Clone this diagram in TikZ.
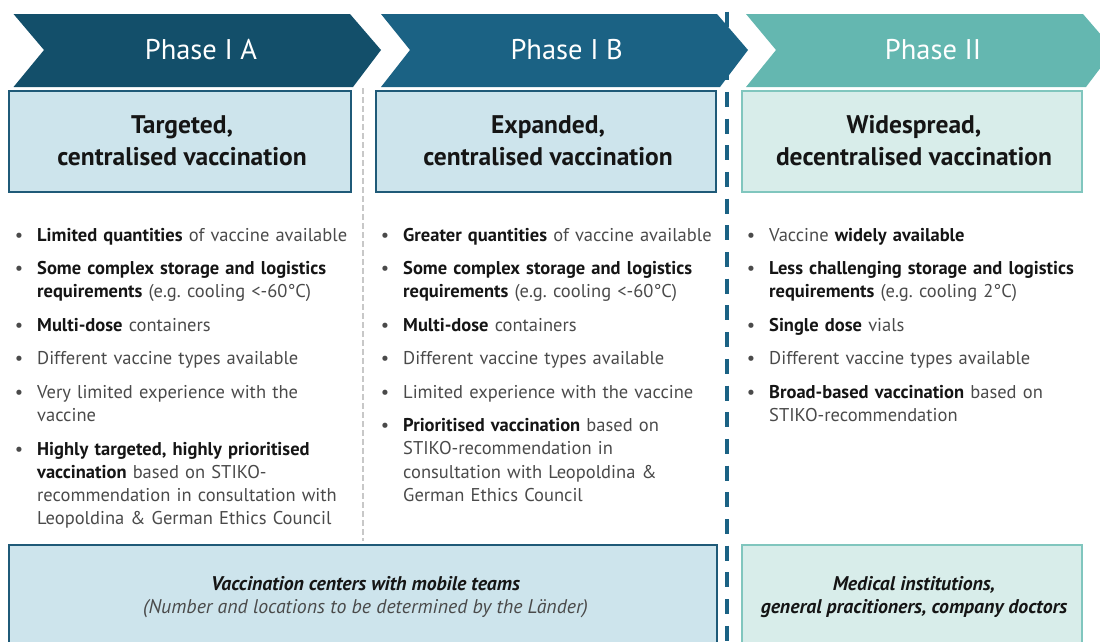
\documentclass[tikz,border=0pt]{standalone}
\usepackage{fontspec}
\setmainfont{PT Sans}
\usetikzlibrary{positioning}
\definecolor{arrA}{HTML}{134F6A}
\definecolor{arrB}{HTML}{1B6284}
\definecolor{arrC}{HTML}{64B7B0}
\definecolor{boxblue}{HTML}{CDE4EC}
\definecolor{boxblueline}{HTML}{1F5A78}
\definecolor{boxgreen}{HTML}{D8EDEA}
\definecolor{boxgreenline}{HTML}{80C6BE}
\definecolor{bodyc}{HTML}{4A4A4A}
\definecolor{boldc}{HTML}{151515}
\definecolor{graydash}{HTML}{C8C8C8}
\newcommand{\bt}[1]{\textbf{\color{boldc}#1}}
\newcommand{\bul}{\llap{\textbullet\hspace{14pt}}}
\frenchspacing
\tikzset{
  title/.style={text=white, font=\fontsize{28.5}{30}\selectfont, anchor=base, inner sep=0},
  headbox/.style={line width=1.6pt},
  headtxt/.style={font=\fontsize{25.5}{32}\selectfont\bfseries, text=boldc, align=center, anchor=base, inner sep=0},
  itemtxt/.style={font=\fontsize{18.5}{23.3}\selectfont\frenchspacing, text=bodyc, align=left, anchor=base west, inner sep=0, text width=340pt},
  foottxt/.style={font=\fontsize{19.8}{22.4}\selectfont\itshape\frenchspacing, text=bodyc, align=center, anchor=base, inner sep=0},
}
\begin{document}
\begin{tikzpicture}[x=1pt,y=-1pt]
\useasboundingbox (0,0) rectangle (1100,641);
\begin{scope}
\clip (0,0) rectangle (1100,641);
% phase arrows
\fill[arrA] (13.5,14) -- (350,14) -- (381,50) -- (353,87) -- (13.5,87) -- (44,50) -- cycle;
\fill[arrB] (381,14) -- (717,14) -- (748,50) -- (720,87) -- (381,87) -- (410,50) -- cycle;
\fill[arrC] (746,14) -- (1083,14) -- (1114,50) -- (1086,87) -- (746,87) -- (776,50) -- cycle;
\node[title] (tA) at (201,59.3) {Phase I A};
\node[title] (tB) at (566.7,59.3) {Phase I B};
\node[title] (tC) at (933,59.3) {Phase II};
% dividers
\draw[graydash, line width=1.2pt, dash pattern=on 6pt off 3pt] (363,88) -- (363,541);
\draw[arrB, line width=4.5pt, dash pattern=on 15pt off 11.7pt] (727,11.7) -- (727,641);
% header boxes
\draw[headbox, draw=boxblueline, fill=boxblue] (8.8,90.8) rectangle (351.2,192.2);
\draw[headbox, draw=boxblueline, fill=boxblue] (375.8,90.8) rectangle (716.2,192.2);
\draw[headbox, draw=boxgreenline, fill=boxgreen] (741.8,90.8) rectangle (1082.2,192.2);
\node[headtxt] (hA) at (182,165) {Targeted,\\centralised vaccination};
\node[headtxt] (hB) at (548,165) {Expanded,\\centralised vaccination};
\node[headtxt] (hC) at (914,165) {Widespread,\\decentralised vaccination};
% column 1
\node[itemtxt] (a1) at (37,241) {\bul\bt{Limited quantities} of vaccine available};
\node[itemtxt] (a2) at (37,274.5) {\bul\bt{Some complex storage and logistics}\\\bt{requirements} (e.g. cooling <-60°C)};
\node[itemtxt] (a3) at (37,331) {\bul\bt{Multi-dose} containers};
\node[itemtxt] (a4) at (37,364) {\bul Different vaccine types available};
\node[itemtxt] (a5) at (37,398) {\bul Very limited experience with the\\vaccine};
\node[itemtxt] (a6) at (37,455) {\bul\bt{Highly targeted, highly prioritised}\\\bt{vaccination} based on STIKO-\\recommendation in consultation with\\Leopoldina \& German Ethics Council};
% column 2
\node[itemtxt] (b1) at (403,241) {\bul\bt{Greater quantities} of vaccine available};
\node[itemtxt] (b2) at (403,274.5) {\bul\bt{Some complex storage and logistics}\\\bt{requirements} (e.g. cooling <-60°C)};
\node[itemtxt] (b3) at (403,331) {\bul\bt{Multi-dose} containers};
\node[itemtxt] (b4) at (403,364) {\bul Different vaccine types available};
\node[itemtxt] (b5) at (403,398) {\bul Limited experience with the vaccine};
\node[itemtxt] (b6) at (403,431.5) {\bul\bt{Prioritised vaccination} based on\\STIKO-recommendation in\\consultation with Leopoldina \&\\German Ethics Council};
% column 3
\node[itemtxt] (c1) at (769,241) {\bul Vaccine \bt{widely available}};
\node[itemtxt] (c2) at (769,274.5) {\bul\bt{Less challenging storage and logistics}\\\bt{requirements} (e.g. cooling 2°C)};
\node[itemtxt] (c3) at (769,331) {\bul\bt{Single dose} vials};
\node[itemtxt] (c4) at (769,364) {\bul Different vaccine types available};
\node[itemtxt] (c5) at (769,398) {\bul\bt{Broad-based vaccination} based on\\STIKO-recommendation};
% bottom boxes
\draw[headbox, draw=boxblueline, fill=boxblue] (8.8,544.8) rectangle (717.2,660);
\draw[headbox, draw=boxgreenline, fill=boxgreen] (741.8,544.8) rectangle (1082.2,660);
\node[foottxt] (fA) at (365.5,613) {\bt{Vaccination centers with mobile teams}\\(Number and locations to be determined by the Länder)};
\node[foottxt] (fB) at (914,613) {\bt{Medical institutions,}\\\bt{general pracitioners, company doctors}};
\end{scope}
\end{tikzpicture}
\end{document}
